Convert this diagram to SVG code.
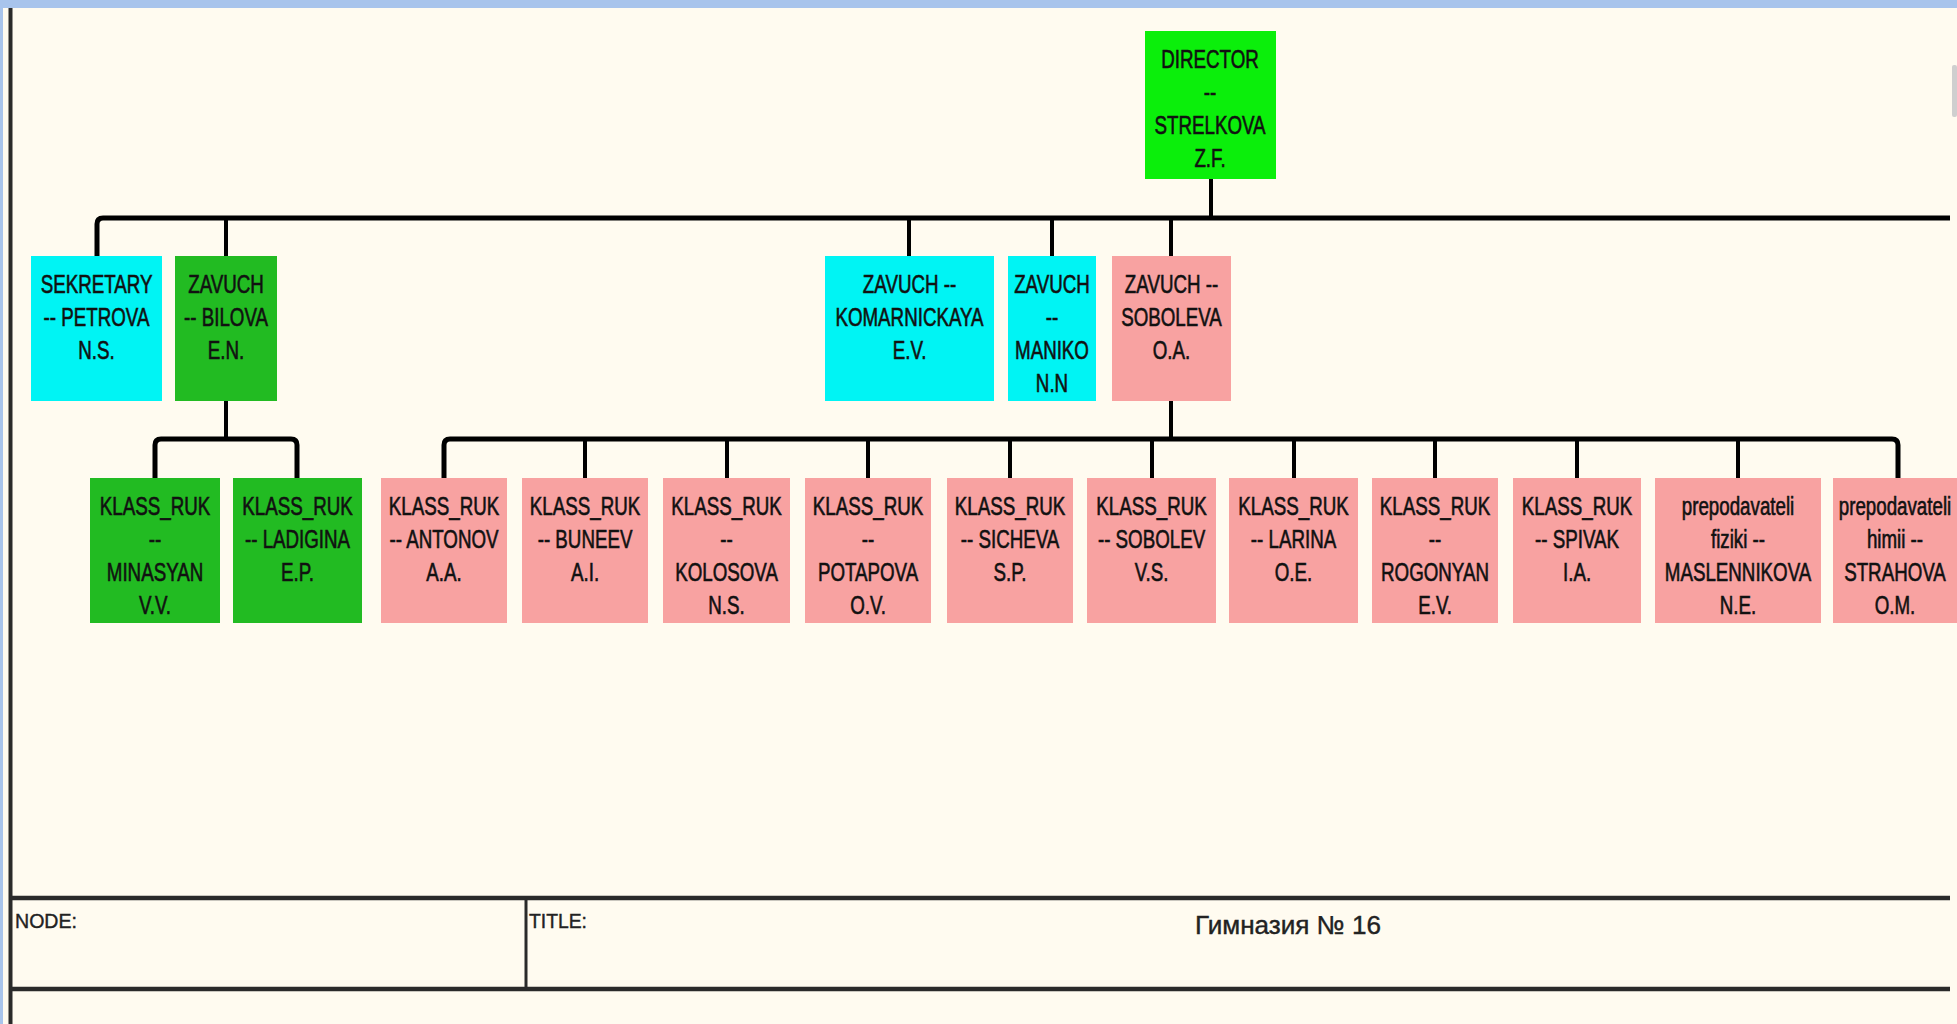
<svg xmlns="http://www.w3.org/2000/svg" width="1957" height="1024" viewBox="0 0 1957 1024">
<style>
.bg{fill:#fffbf0}
.box{stroke:none}
.g1{fill:#0bef0b}.g2{fill:#22bb22}.cy{fill:#00f4f4}.pk{fill:#f8a2a1}
.t{font-family:"Liberation Sans",Arial,sans-serif;font-size:25px;fill:#111;stroke:#111;stroke-width:0.6px;text-anchor:middle;transform-box:fill-box;transform-origin:center;transform:scaleX(0.75)}
.ft{font-family:"Liberation Sans",Arial,sans-serif;fill:#222;stroke:#222;stroke-width:0.4px}
.c{fill:none;stroke:#000;stroke-linejoin:round}
.h{stroke-width:5}.v{stroke-width:4}
.frame{stroke:#2a2a2a;fill:none}
</style>
<rect class="bg" x="0" y="0" width="1957" height="1024"/>
<rect x="0" y="0" width="1957" height="8" fill="#a8c4ec"/>
<rect x="0" y="0" width="3" height="1024" fill="#a8c4ec"/>
<rect x="1952" y="65" width="5" height="52" rx="2" fill="#cfcfcf"/>
<g id="frame">
<line class="frame" x1="10.5" y1="8" x2="10.5" y2="1024" stroke-width="4"/>
<line class="frame" x1="10" y1="898" x2="1950" y2="898" stroke-width="4.5"/>
<line class="frame" x1="10" y1="989" x2="1950" y2="989" stroke-width="4.5"/>
<line class="frame" x1="526" y1="898" x2="526" y2="989" stroke-width="3"/>
<text class="ft" x="15" y="928" font-size="20" textLength="62" lengthAdjust="spacingAndGlyphs">NODE:</text>
<text class="ft" x="529" y="928" font-size="20" textLength="58" lengthAdjust="spacingAndGlyphs">TITLE:</text>
<text class="ft" x="1195" y="934" font-size="26" textLength="186" lengthAdjust="spacingAndGlyphs">Гимназия № 16</text>
</g>
<g id="connectors">
<path class="c v" d="M1211,179 V218"/>
<path class="c h" d="M97,256 V224 Q97,218 103,218 H1950"/>
<path class="c v" d="M226,218 V256 M909,218 V256 M1052,218 V256 M1171,218 V256"/>
<path class="c v" d="M226,401 V439"/>
<path class="c h" d="M155,478 V445 Q155,439 161,439 H291 Q297,439 297,445 V478"/>
<path class="c v" d="M1171,401 V439"/>
<path class="c h" d="M444,478 V445 Q444,439 450,439 H1892 Q1898,439 1898,445 V478"/>
<path class="c v" d="M585,439 V478 M727,439 V478 M868,439 V478 M1010,439 V478 M1152,439 V478 M1294,439 V478 M1435,439 V478 M1577,439 V478 M1738,439 V478"/>
</g>
<g id="director"><rect class="box g1" x="1145" y="31" width="131" height="148"/><text class="t"><tspan x="1210" y="68">DIRECTOR</tspan><tspan x="1210" y="101">--</tspan><tspan x="1210" y="134">STRELKOVA</tspan><tspan x="1210" y="167">Z.F.</tspan></text></g>
<g id="sekretary"><rect class="box cy" x="31" y="256" width="131" height="145"/><text class="t"><tspan x="96.5" y="293">SEKRETARY</tspan><tspan x="96.5" y="326">-- PETROVA</tspan><tspan x="96.5" y="359">N.S.</tspan></text></g>
<g id="bilova"><rect class="box g2" x="175" y="256" width="102" height="145"/><text class="t"><tspan x="226" y="293">ZAVUCH</tspan><tspan x="226" y="326">-- BILOVA</tspan><tspan x="226" y="359">E.N.</tspan></text></g>
<g id="komarnickaya"><rect class="box cy" x="825" y="256" width="169" height="145"/><text class="t"><tspan x="909.5" y="293">ZAVUCH --</tspan><tspan x="909.5" y="326">KOMARNICKAYA</tspan><tspan x="909.5" y="359">E.V.</tspan></text></g>
<g id="maniko"><rect class="box cy" x="1008" y="256" width="88" height="145"/><text class="t"><tspan x="1052" y="293">ZAVUCH</tspan><tspan x="1052" y="326">--</tspan><tspan x="1052" y="359">MANIKO</tspan><tspan x="1052" y="392">N.N</tspan></text></g>
<g id="soboleva"><rect class="box pk" x="1112" y="256" width="119" height="145"/><text class="t"><tspan x="1171.5" y="293">ZAVUCH --</tspan><tspan x="1171.5" y="326">SOBOLEVA</tspan><tspan x="1171.5" y="359">O.A.</tspan></text></g>
<g id="minasyan"><rect class="box g2" x="90" y="478" width="130" height="145"/><text class="t"><tspan x="155" y="515">KLASS_RUK</tspan><tspan x="155" y="548">--</tspan><tspan x="155" y="581">MINASYAN</tspan><tspan x="155" y="614">V.V.</tspan></text></g>
<g id="ladigina"><rect class="box g2" x="233" y="478" width="129" height="145"/><text class="t"><tspan x="297.5" y="515">KLASS_RUK</tspan><tspan x="297.5" y="548">-- LADIGINA</tspan><tspan x="297.5" y="581">E.P.</tspan></text></g>
<g id="antonov"><rect class="box pk" x="381" y="478" width="126" height="145"/><text class="t"><tspan x="444" y="515">KLASS_RUK</tspan><tspan x="444" y="548">-- ANTONOV</tspan><tspan x="444" y="581">A.A.</tspan></text></g>
<g id="buneev"><rect class="box pk" x="522" y="478" width="126" height="145"/><text class="t"><tspan x="585" y="515">KLASS_RUK</tspan><tspan x="585" y="548">-- BUNEEV</tspan><tspan x="585" y="581">A.I.</tspan></text></g>
<g id="kolosova"><rect class="box pk" x="663" y="478" width="127" height="145"/><text class="t"><tspan x="726.5" y="515">KLASS_RUK</tspan><tspan x="726.5" y="548">--</tspan><tspan x="726.5" y="581">KOLOSOVA</tspan><tspan x="726.5" y="614">N.S.</tspan></text></g>
<g id="potapova"><rect class="box pk" x="805" y="478" width="126" height="145"/><text class="t"><tspan x="868" y="515">KLASS_RUK</tspan><tspan x="868" y="548">--</tspan><tspan x="868" y="581">POTAPOVA</tspan><tspan x="868" y="614">O.V.</tspan></text></g>
<g id="sicheva"><rect class="box pk" x="947" y="478" width="126" height="145"/><text class="t"><tspan x="1010" y="515">KLASS_RUK</tspan><tspan x="1010" y="548">-- SICHEVA</tspan><tspan x="1010" y="581">S.P.</tspan></text></g>
<g id="sobolev"><rect class="box pk" x="1087" y="478" width="129" height="145"/><text class="t"><tspan x="1151.5" y="515">KLASS_RUK</tspan><tspan x="1151.5" y="548">-- SOBOLEV</tspan><tspan x="1151.5" y="581">V.S.</tspan></text></g>
<g id="larina"><rect class="box pk" x="1229" y="478" width="129" height="145"/><text class="t"><tspan x="1293.5" y="515">KLASS_RUK</tspan><tspan x="1293.5" y="548">-- LARINA</tspan><tspan x="1293.5" y="581">O.E.</tspan></text></g>
<g id="rogonyan"><rect class="box pk" x="1372" y="478" width="126" height="145"/><text class="t"><tspan x="1435" y="515">KLASS_RUK</tspan><tspan x="1435" y="548">--</tspan><tspan x="1435" y="581">ROGONYAN</tspan><tspan x="1435" y="614">E.V.</tspan></text></g>
<g id="spivak"><rect class="box pk" x="1513" y="478" width="128" height="145"/><text class="t"><tspan x="1577" y="515">KLASS_RUK</tspan><tspan x="1577" y="548">-- SPIVAK</tspan><tspan x="1577" y="581">I.A.</tspan></text></g>
<g id="maslennikova"><rect class="box pk" x="1655" y="478" width="166" height="145"/><text class="t"><tspan x="1738" y="515">prepodavateli</tspan><tspan x="1738" y="548">fiziki --</tspan><tspan x="1738" y="581">MASLENNIKOVA</tspan><tspan x="1738" y="614">N.E.</tspan></text></g>
<g id="strahova"><rect class="box pk" x="1833" y="478" width="130" height="145"/><text class="t"><tspan x="1895" y="515">prepodavateli</tspan><tspan x="1895" y="548">himii --</tspan><tspan x="1895" y="581">STRAHOVA</tspan><tspan x="1895" y="614">O.M.</tspan></text></g>
</svg>
